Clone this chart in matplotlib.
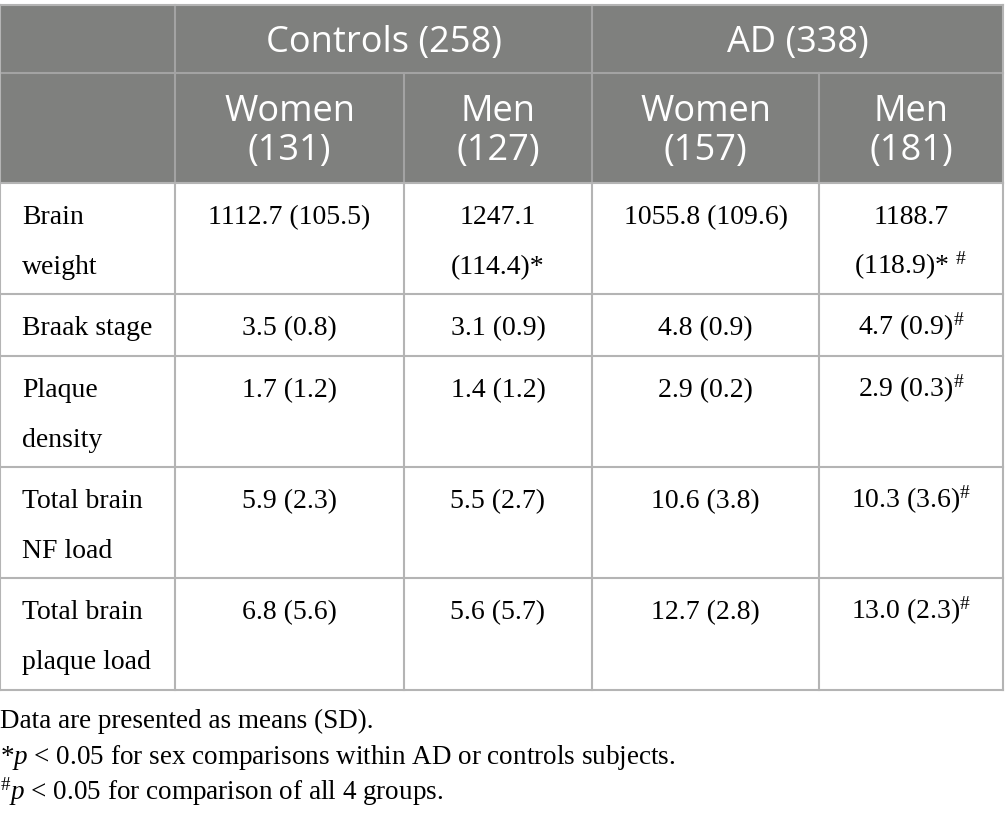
import numpy as np
import matplotlib
matplotlib.use("Agg")
import matplotlib.pyplot as plt
from matplotlib.patches import Rectangle

plt.rcParams['mathtext.fontset'] = 'custom'
plt.rcParams['mathtext.rm'] = 'Liberation Serif'
plt.rcParams['mathtext.it'] = 'Liberation Serif:italic'

#%% data
groups = ["Controls (258)", "AD (338)"]
subgroups = [["Women", "(131)"], ["Men", "(127)"], ["Women", "(157)"], ["Men", "(181)"]]
row_labels = [["Brain", "weight"], ["Braak stage"], ["Plaque", "density"],
              ["Total brain", "NF load"], ["Total brain", "plaque load"]]
means = [[1112.7, 1247.1, 1055.8, 1188.7],
         [3.5, 3.1, 4.8, 4.7],
         [1.7, 1.4, 2.9, 2.9],
         [5.9, 5.5, 10.6, 10.3],
         [6.8, 5.6, 12.7, 13.0]]
sds = [[105.5, 114.4, 109.6, 118.9],
       [0.8, 0.9, 0.9, 0.9],
       [1.2, 1.2, 0.2, 0.3],
       [2.3, 2.7, 3.8, 3.6],
       [5.6, 5.7, 2.8, 2.3]]
star = [[0, 1, 0, 1], [0, 0, 0, 0], [0, 0, 0, 0], [0, 0, 0, 0], [0, 0, 0, 0]]
hash_ = [[0, 0, 0, 1], [0, 0, 0, 1], [0, 0, 0, 1], [0, 0, 0, 1], [0, 0, 0, 1]]
wrap = [[0, 1, 0, 1], [0, 0, 0, 0], [0, 0, 0, 0], [0, 0, 0, 0], [0, 0, 0, 0]]
notes = ["Data are presented as means (SD).",
         r"*$p$ < 0.05 for sex comparisons within AD or controls subjects.",
         r"$^{\#}p$ < 0.05 for comparison of all 4 groups."]

#%% layout (pixels)
W, H = 1005, 817
xcol = [0, 175, 404, 592, 819, 1003]
yrow = [5, 73, 183, 294, 356, 467, 578, 690]
head_gray = '#7f807e'
line_gray = '#b4b4b4'
head_line = '#a3a3a3'
lw = 1.5
serif = 'Liberation Serif'
sans = 'Open Sans'
fs_body = 20
fs_head = 26
fs_note = 19.5

fig = plt.figure(figsize=(W/100, H/100), dpi=100)
ax = fig.add_axes([0, 0, 1, 1])
ax.set_xlim(0, W)
ax.set_ylim(H, 0)
ax.axis('off')

# header background
ax.add_patch(Rectangle((xcol[0], yrow[0]), xcol[-1]-xcol[0], yrow[2]-yrow[0],
                       facecolor=head_gray, edgecolor='none'))

# header lines
ax.plot([xcol[0], xcol[-1]], [yrow[1], yrow[1]], color=head_line, lw=lw)
ax.plot([xcol[1], xcol[1]], [yrow[0], yrow[2]], color=head_line, lw=lw)
ax.plot([xcol[3], xcol[3]], [yrow[0], yrow[2]], color=head_line, lw=lw)
for c in [2, 4]:
    ax.plot([xcol[c], xcol[c]], [yrow[1], yrow[2]], color=head_line, lw=lw)

# body lines
for r in range(2, len(yrow)):
    ax.plot([xcol[0], xcol[-1]], [yrow[r], yrow[r]], color=line_gray, lw=lw)
for c in range(len(xcol)):
    ax.plot([xcol[c], xcol[c]], [yrow[2], yrow[-1]], color=line_gray, lw=lw)
ax.plot([xcol[0], xcol[-1]], [yrow[0], yrow[0]], color=line_gray, lw=lw)
ax.plot([xcol[0], xcol[0]], [yrow[0], yrow[2]], color=line_gray, lw=lw)
ax.plot([xcol[-1], xcol[-1]], [yrow[0], yrow[2]], color=line_gray, lw=lw)

# group headers
for g, name in enumerate(groups):
    xc = (xcol[1+2*g] + xcol[3+2*g]) / 2
    ax.text(xc, yrow[0]+47, name, family=sans, fontsize=fs_head, color='white',
            ha='center', va='baseline')

# subgroup headers
for j, lines in enumerate(subgroups):
    xc = (xcol[1+j] + xcol[2+j]) / 2
    for k, s in enumerate(lines):
        ax.text(xc, yrow[1]+48+k*39, s, family=sans, fontsize=fs_head, color='white',
                ha='center', va='baseline')

# body
for i in range(len(row_labels)):
    y0 = yrow[2+i] + 41
    for k, s in enumerate(row_labels[i]):
        ax.text(xcol[0]+22, y0+k*50, s, family=serif, fontsize=fs_body,
                ha='left', va='baseline')
    for j in range(4):
        xc = (xcol[1+j] + xcol[2+j]) / 2
        m = f"{means[i][j]:.1f}"
        sd = f"({sds[i][j]:.1f})"
        if star[i][j]:
            sd += "*"
        if hash_[i][j]:
            sd += (r" $^{\#}$" if star[i][j] else r"$^{\#}$")
        if wrap[i][j]:
            parts = [m, sd]
        else:
            parts = [m + " " + sd]
        for k, s in enumerate(parts):
            ax.text(xc, y0+k*50, s, family=serif, fontsize=fs_body,
                    ha='center', va='baseline')

# footnotes
for k, s in enumerate(notes):
    ax.text(0, 728+k*36, s, family=serif, fontsize=fs_note, ha='left', va='baseline')

fig.savefig('out.png', dpi=100)
